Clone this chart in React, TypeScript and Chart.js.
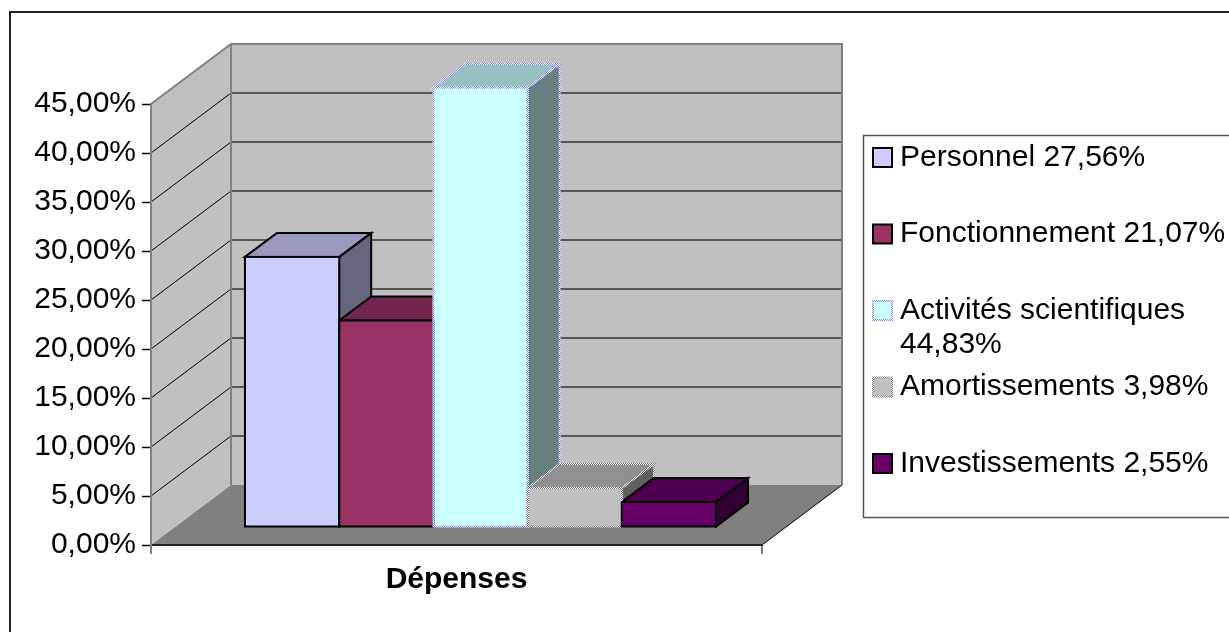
import React, { useEffect, useRef } from 'react';
import { Chart, registerables } from 'chart.js';

Chart.register(...registerables);

// ---- data ----
const categories = ['Dépenses'];
const seriesNames = ['Personnel', 'Fonctionnement', 'Activités scientifiques', 'Amortissements', 'Investissements'];
const seriesValues = [27.56, 21.07, 44.83, 3.98, 2.55];
const yTickValues = [0, 5, 10, 15, 20, 25, 30, 35, 40, 45];

// ---- styles ----
const frontColors = ['#CCCCFF', '#993366', '#CCFFFF', '#C0C0C0', '#660066'];
const topColors = ['#9999C0', '#73264D', '#99C0C0', '#909090', '#4D004D'];
const sideColors = ['#666680', '#4D1A33', '#668080', '#606060', '#330033'];
const borderKinds = ['solid', 'solid', 'blueDots', 'grayDots', 'solid'];

const FONT = '"Liberation Sans", Arial, sans-serif';
const WALL = { dx: 80, dy: -60 };
const BAR_OFF = { dx: 24, dy: -18 };
const BAR_DEPTH = { dx: 32, dy: -24 };

const fmtPct = (v: number) => v.toFixed(2).replace('.', ',') + '%';

function makeChecker(ctx: CanvasRenderingContext2D, c1: string, c2: string) {
  const p = document.createElement('canvas');
  p.width = 2;
  p.height = 2;
  const g = p.getContext('2d')!;
  g.fillStyle = c2;
  g.fillRect(0, 0, 2, 2);
  g.fillStyle = c1;
  g.fillRect(0, 0, 1, 1);
  g.fillRect(1, 1, 1, 1);
  return ctx.createPattern(p, 'repeat')!;
}

function poly(ctx: CanvasRenderingContext2D, pts: number[][]) {
  ctx.beginPath();
  ctx.moveTo(pts[0][0], pts[0][1]);
  for (let i = 1; i < pts.length; i++) ctx.lineTo(pts[i][0], pts[i][1]);
  ctx.closePath();
}

function line(ctx: CanvasRenderingContext2D, x1: number, y1: number, x2: number, y2: number) {
  ctx.beginPath();
  ctx.moveTo(x1, y1);
  ctx.lineTo(x2, y2);
  ctx.stroke();
}

export default function App() {
  const ref = useRef<HTMLCanvasElement>(null);

  useEffect(() => {
    const canvas = ref.current!;
    const c2d = canvas.getContext('2d')!;
    const strokes: any[] = borderKinds.map((k) =>
      k === 'blueDots' ? makeChecker(c2d, '#8080FF', '#FFFFFF') : k === 'grayDots' ? makeChecker(c2d, '#707070', '#FFFFFF') : '#000000'
    );

    const threeD = {
      id: 'threeD',
      beforeDraw(chart: any) {
        const { ctx, chartArea: a } = chart;
        const y = chart.scales.y;
        const { dx, dy } = WALL;
        ctx.save();
        // side wall
        ctx.fillStyle = '#C0C0C0';
        poly(ctx, [[a.left, a.top], [a.left + dx, a.top + dy], [a.left + dx, a.bottom + dy], [a.left, a.bottom]]);
        ctx.fill();
        // back wall
        poly(ctx, [[a.left + dx, a.top + dy], [a.right + dx, a.top + dy], [a.right + dx, a.bottom + dy], [a.left + dx, a.bottom + dy]]);
        ctx.fill();
        // floor
        ctx.fillStyle = '#808080';
        poly(ctx, [[a.left, a.bottom], [a.left + dx, a.bottom + dy], [a.right + dx, a.bottom + dy], [a.right, a.bottom]]);
        ctx.fill();
        // gridlines
        const max = y.max;
        y.ticks.forEach((t: any) => {
          if (t.value <= 0 || t.value >= max) return;
          const py = y.getPixelForValue(t.value);
          ctx.strokeStyle = '#333333';
          ctx.lineWidth = 1.5;
          line(ctx, a.left + dx, py + dy, a.right + dx, py + dy);
          ctx.strokeStyle = '#000000';
          ctx.lineWidth = 1;
          line(ctx, a.left, py, a.left + dx, py + dy);
        });
        // wall edges
        ctx.strokeStyle = '#808080';
        ctx.lineWidth = 2;
        ctx.beginPath();
        ctx.moveTo(a.left, a.top);
        ctx.lineTo(a.left + dx, a.top + dy);
        ctx.lineTo(a.right + dx, a.top + dy);
        ctx.lineTo(a.right + dx, a.bottom + dy);
        ctx.stroke();
        line(ctx, a.left + dx, a.top + dy, a.left + dx, a.bottom + dy);
        ctx.strokeStyle = '#000000';
        ctx.lineWidth = 1;
        line(ctx, a.right, a.bottom, a.right + dx, a.bottom + dy);
        ctx.restore();
      },
      beforeDatasetsDraw(chart: any) {
        const ctx = chart.ctx;
        ctx.save();
        ctx.translate(BAR_OFF.dx, BAR_OFF.dy);
        const { dx, dy } = BAR_DEPTH;
        chart.data.datasets.forEach((_: any, i: number) => {
          const el = chart.getDatasetMeta(i).data[0];
          if (!el) return;
          const l = el.x - el.width / 2;
          const r = el.x + el.width / 2;
          const t = el.y;
          const b = el.base;
          ctx.lineWidth = 2;
          ctx.lineJoin = 'miter';
          ctx.strokeStyle = strokes[i];
          ctx.fillStyle = sideColors[i];
          poly(ctx, [[r, t], [r + dx, t + dy], [r + dx, b + dy], [r, b]]);
          ctx.fill();
          ctx.stroke();
          ctx.fillStyle = topColors[i];
          poly(ctx, [[l, t], [l + dx, t + dy], [r + dx, t + dy], [r, t]]);
          ctx.fill();
          ctx.stroke();
        });
      },
      afterDatasetsDraw(chart: any) {
        const ctx = chart.ctx;
        chart.data.datasets.forEach((_: any, i: number) => {
          const el = chart.getDatasetMeta(i).data[0];
          if (!el) return;
          ctx.lineWidth = 2;
          ctx.strokeStyle = strokes[i];
          ctx.strokeRect(el.x - el.width / 2, el.y, el.width, el.base - el.y);
        });
        ctx.restore();
      },
      afterDraw(chart: any) {
        const ctx = chart.ctx;
        ctx.save();
        // outer frame
        ctx.strokeStyle = '#222222';
        ctx.lineWidth = 2;
        ctx.strokeRect(10, 12, 1400, 800);
        // legend box
        const bx = 863.5, by = 135.5, bh = 382;
        ctx.strokeStyle = '#555555';
        ctx.lineWidth = 1.5;
        ctx.strokeRect(bx, by, 600, bh);
        ctx.font = `30px ${FONT}`;
        ctx.textBaseline = 'middle';
        ctx.textAlign = 'left';
        const textX = 900;
        const maxW = 330;
        chart.data.datasets.forEach((ds: any, i: number) => {
          const cy = by + 22 + i * 76.5;
          ctx.fillStyle = frontColors[i];
          ctx.fillRect(873, cy - 9.5, 19, 19);
          ctx.strokeStyle = strokes[i];
          ctx.lineWidth = 2;
          ctx.strokeRect(873, cy - 9.5, 19, 19);
          // wrap
          const words = String(ds.label).split(' ');
          const lines: string[] = [];
          let cur = '';
          words.forEach((w) => {
            const test = cur ? cur + ' ' + w : w;
            if (ctx.measureText(test).width > maxW && cur) {
              lines.push(cur);
              cur = w;
            } else cur = test;
          });
          if (cur) lines.push(cur);
          ctx.fillStyle = '#000000';
          lines.forEach((ln, k) => ctx.fillText(ln, textX, cy + k * 34));
        });
        ctx.restore();
      },
    };

    const chart = new Chart(canvas, {
      type: 'bar',
      data: {
        labels: categories,
        datasets: seriesNames.map((name, i) => ({
          label: `${name} ${fmtPct(seriesValues[i])}`,
          data: [seriesValues[i]],
          backgroundColor: frontColors[i],
          borderWidth: 0,
          barPercentage: 1,
          categoryPercentage: 0.771,
          clip: false as any,
        })),
      },
      options: {
        animation: false,
        responsive: false,
        devicePixelRatio: 1,
        layout: { padding: { left: 0, right: 467, top: 104, bottom: 0 } },
        plugins: { legend: { display: false }, tooltip: { enabled: false }, title: { display: false } },
        scales: {
          x: {
            grid: { drawOnChartArea: false, tickLength: 9, color: '#808080', lineWidth: 2 },
            border: { color: '#222222', width: 2 },
            ticks: { font: { family: FONT, size: 30, weight: 'bold' }, color: '#000000', padding: 8 },
            afterFit: (s: any) => {
              s.height = 87;
            },
          },
          y: {
            min: 0,
            max: 45,
            afterBuildTicks: (s: any) => {
              s.ticks = yTickValues.map((v) => ({ value: v }));
            },
            grid: { drawOnChartArea: false, tickLength: 9, tickColor: '#000000', tickWidth: 1.5 },
            border: { color: '#808080', width: 2 },
            ticks: {
              autoSkip: false,
              font: { family: FONT, size: 30 },
              color: '#000000',
              padding: 6,
              callback: (v: any) => fmtPct(Number(v)),
            },
            afterFit: (s: any) => {
              s.width = 151;
            },
          },
        },
      },
      plugins: [threeD],
    } as any);

    return () => chart.destroy();
  }, []);

  return (
    <div style={{ position: 'fixed', left: 0, top: 0, width: 1229, height: 632, background: '#ffffff' }}>
      <canvas ref={ref} width={1229} height={632} style={{ display: 'block', width: 1229, height: 632 }} />
    </div>
  );
}
